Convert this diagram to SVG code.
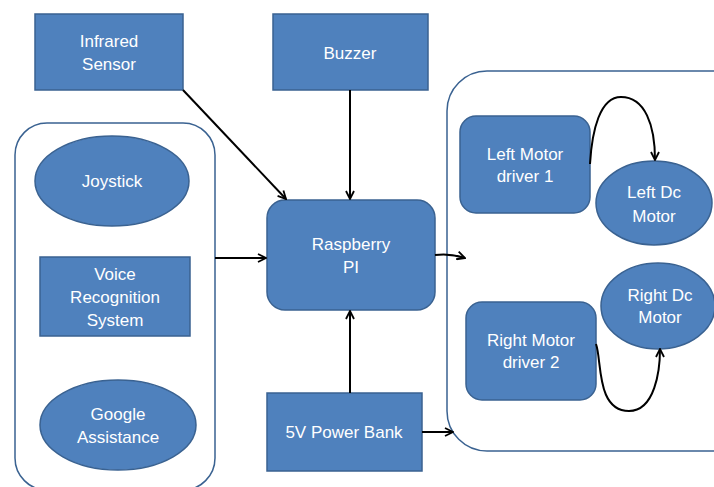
<svg xmlns="http://www.w3.org/2000/svg" width="714" height="487" viewBox="0 0 714 487">
<defs>
<marker id="arr" viewBox="0 0 10 10" refX="9" refY="5" markerWidth="10" markerHeight="10" markerUnits="userSpaceOnUse" orient="auto">
<path d="M1,1 L9,5 L1,9" fill="none" stroke="#000" stroke-width="1.8"/>
</marker>
<style>
.n{fill:#4F81BD;stroke:#3A6291;stroke-width:1.5}
.c{fill:#fff;stroke:#3A6291;stroke-width:1.5}
.t{fill:#fff;font-family:"Liberation Sans",Arial,sans-serif;font-size:17px;text-anchor:middle}
.e{fill:none;stroke:#000;stroke-width:2;marker-end:url(#arr)}
</style>
</defs>
<rect width="714" height="487" fill="#fff"/>
<g id="left-group"><rect class="c" x="15" y="123" width="200" height="367" rx="32"/></g>
<g id="right-group"><rect class="c" x="447" y="71" width="320" height="380" rx="40"/></g>
<g id="infrared"><rect class="n" x="35" y="14" width="148" height="76"/><text class="t" x="109" y="47">Infrared</text><text class="t" x="109" y="70">Sensor</text></g>
<g id="buzzer"><rect class="n" x="273" y="14" width="155" height="76"/><text class="t" x="350" y="59">Buzzer</text></g>
<g id="joystick"><ellipse class="n" cx="112" cy="181" rx="77" ry="45"/><text class="t" x="112" y="187">Joystick</text></g>
<g id="voice"><rect class="n" x="40" y="257" width="150" height="79"/><text class="t" x="115" y="280">Voice</text><text class="t" x="115" y="303">Recognition</text><text class="t" x="115" y="326">System</text></g>
<g id="google"><ellipse class="n" cx="118" cy="425" rx="78" ry="45"/><text class="t" x="118" y="420">Google</text><text class="t" x="118" y="443">Assistance</text></g>
<g id="raspberry"><rect class="n" x="267" y="200" width="168" height="110" rx="18"/><text class="t" x="351" y="250">Raspberry</text><text class="t" x="351" y="273">PI</text></g>
<g id="powerbank"><rect class="n" x="267" y="393" width="155" height="78"/><text class="t" x="344" y="438">5V Power Bank</text></g>
<g id="left-driver"><rect class="n" x="460" y="116" width="130" height="97" rx="16"/><text class="t" x="525" y="160">Left Motor</text><text class="t" x="525" y="182">driver 1</text></g>
<g id="left-motor"><ellipse class="n" cx="654" cy="203" rx="58" ry="42"/><text class="t" x="654" y="198">Left Dc</text><text class="t" x="654" y="222">Motor</text></g>
<g id="right-driver"><rect class="n" x="466" y="302" width="130" height="98" rx="16"/><text class="t" x="531" y="346">Right Motor</text><text class="t" x="531" y="368">driver 2</text></g>
<g id="right-motor"><ellipse class="n" cx="658" cy="306" rx="57" ry="43"/><text class="t" x="660" y="301">Right Dc</text><text class="t" x="660" y="323">Motor</text></g>
<g id="connectors">
<path class="e" d="M183,90 L286,199"/>
<path class="e" d="M350,90 L350,199"/>
<path class="e" d="M215,258 L266,258"/>
<path class="e" d="M435,255 Q450,253 465,258"/>
<path class="e" d="M350,393 L350,311"/>
<path class="e" d="M422,432 L453,432"/>
<path class="e" d="M590,164 C592,130 600,97 621,97 C645,97 655,125 655,160"/>
<path class="e" d="M596,344 C602,360 596,411 629,411 C655,411 660,370 660,349"/>
</g>
</svg>
